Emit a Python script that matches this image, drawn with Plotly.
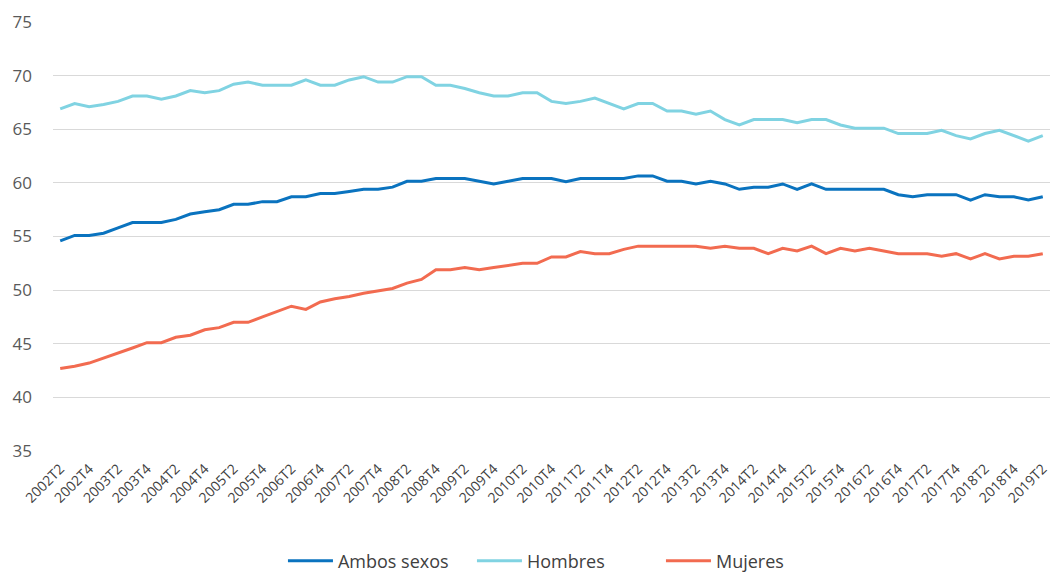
import plotly.graph_objects as go

quarters = [
    "2002T2", "2002T3", "2002T4", "2003T1", "2003T2", "2003T3", "2003T4",
    "2004T1", "2004T2", "2004T3", "2004T4", "2005T1", "2005T2", "2005T3", "2005T4",
    "2006T1", "2006T2", "2006T3", "2006T4", "2007T1", "2007T2", "2007T3", "2007T4",
    "2008T1", "2008T2", "2008T3", "2008T4", "2009T1", "2009T2", "2009T3", "2009T4",
    "2010T1", "2010T2", "2010T3", "2010T4", "2011T1", "2011T2", "2011T3", "2011T4",
    "2012T1", "2012T2", "2012T3", "2012T4", "2013T1", "2013T2", "2013T3", "2013T4",
    "2014T1", "2014T2", "2014T3", "2014T4", "2015T1", "2015T2", "2015T3", "2015T4",
    "2016T1", "2016T2", "2016T3", "2016T4", "2017T1", "2017T2", "2017T3", "2017T4",
    "2018T1", "2018T2", "2018T3", "2018T4", "2019T1", "2019T2",
]

ambos = [
    54.6, 55.1, 55.1, 55.3, 55.8, 56.3, 56.3, 56.3, 56.6, 57.1, 57.3, 57.5,
    58.0, 58.0, 58.25, 58.25, 58.7, 58.7, 59.0, 59.0, 59.2, 59.4, 59.4,
    59.6, 60.15, 60.15, 60.4, 60.4, 60.4, 60.15, 59.9, 60.15, 60.4, 60.4,
    60.4, 60.1, 60.4, 60.4, 60.4, 60.4, 60.65, 60.65, 60.15, 60.15, 59.9,
    60.15, 59.9, 59.4, 59.6, 59.6, 59.9, 59.4, 59.9, 59.4, 59.4, 59.4,
    59.4, 59.4, 58.9, 58.7, 58.9, 58.9, 58.9, 58.4, 58.9, 58.7, 58.7,
    58.4, 58.7,
]

hombres = [
    66.9, 67.4, 67.1, 67.3, 67.6, 68.1, 68.1, 67.8, 68.1, 68.6, 68.4, 68.6,
    69.2, 69.4, 69.1, 69.1, 69.1, 69.6, 69.1, 69.1, 69.6, 69.9, 69.4,
    69.4, 69.9, 69.9, 69.1, 69.1, 68.8, 68.4, 68.1, 68.1, 68.4, 68.4,
    67.6, 67.4, 67.6, 67.9, 67.4, 66.9, 67.4, 67.4, 66.7, 66.7, 66.4,
    66.7, 65.9, 65.4, 65.9, 65.9, 65.9, 65.6, 65.9, 65.9, 65.4, 65.1,
    65.1, 65.1, 64.6, 64.6, 64.6, 64.9, 64.4, 64.1, 64.6, 64.9, 64.4,
    63.9, 64.4,
]

mujeres = [
    42.7, 42.9, 43.2, 43.65, 44.1, 44.6, 45.1, 45.1, 45.6, 45.8, 46.3, 46.5,
    47.0, 47.0, 47.5, 48.0, 48.5, 48.2, 48.9, 49.2, 49.4, 49.7, 49.9,
    50.15, 50.65, 51.0, 51.9, 51.9, 52.1, 51.9, 52.1, 52.3, 52.5, 52.5,
    53.1, 53.1, 53.6, 53.4, 53.4, 53.8, 54.1, 54.1, 54.1, 54.1, 54.1,
    53.9, 54.1, 53.9, 53.9, 53.4, 53.9, 53.65, 54.1, 53.4, 53.9, 53.65,
    53.9, 53.65, 53.4, 53.4, 53.4, 53.15, 53.4, 52.9, 53.4, 52.9, 53.15,
    53.15, 53.4,
]

series_names = ["Ambos sexos", "Hombres", "Mujeres"]
series_colors = ["#0a73bf", "#80d3e2", "#f26b50"]
y_ticks = [35, 40, 45, 50, 55, 60, 65, 70, 75]

fig = go.Figure()
for name, vals, col in zip(series_names, [ambos, hombres, mujeres], series_colors):
    fig.add_trace(go.Scatter(
        x=quarters, y=vals, mode="lines", name=name,
        line=dict(color=col, width=3),
    ))

# the page body has an 8px default margin, so the figure sits at (8, 8)
fig.update_layout(
    width=1059, height=572,
    margin=dict(l=45, r=17, t=14, b=129, autoexpand=False),
    paper_bgcolor="white", plot_bgcolor="white",
    font=dict(family="Open Sans", color="#595959"),
    showlegend=True,
    legend=dict(orientation="h", x=0.515, xanchor="center",
                yref="container", y=0.033, yanchor="middle",
                font=dict(size=18, color="#404040"), traceorder="normal",
                entrywidth=129, itemwidth=45),
    xaxis=dict(
        type="category", range=[-0.5, 68.5], automargin=False,
        tickmode="array", tickvals=quarters[::2], ticktext=quarters[::2],
        tickangle=-45, tickfont=dict(size=14, color="#404040"),
        showgrid=False, showline=False, ticks="", zeroline=False,
        ticklabelstandoff=6,
    ),
    yaxis=dict(
        range=[35, 75], tickvals=y_ticks, automargin=False,
        tickfont=dict(size=17, color="#595959"),
        showgrid=True, gridcolor="#d9d9d9", gridwidth=1,
        zeroline=False, showline=False, ticks="",
        ticklabelstandoff=20,
    ),
)

fig.write_html("out.html")
